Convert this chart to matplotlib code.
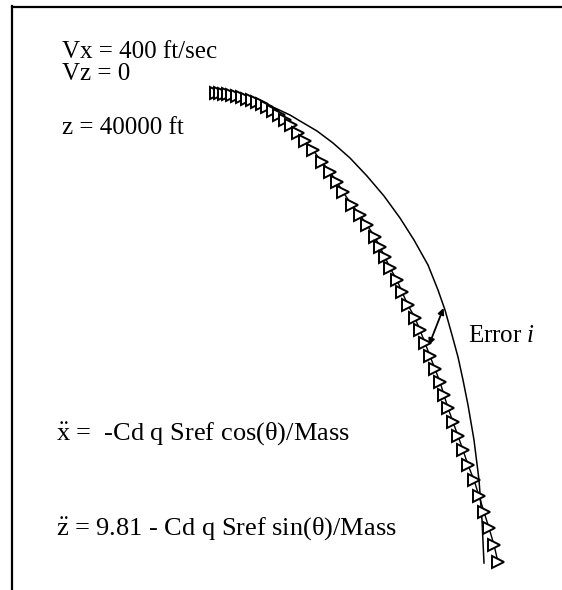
import matplotlib
matplotlib.use("Agg")
import matplotlib.pyplot as plt

plt.rcParams['font.family'] = ['Liberation Serif', 'DejaVu Serif']
plt.rcParams['mathtext.fontset'] = 'custom'
plt.rcParams['mathtext.rm'] = 'Liberation Serif'
plt.rcParams['mathtext.it'] = 'Liberation Serif:italic'

# Simulated trajectory (triangle markers): downrange / depth in picture units
sim_x = [216, 220, 224, 228, 232, 237, 242, 247, 252, 257, 262, 267, 273, 279,
         285, 291, 298, 305, 313, 322, 330, 337, 343, 352, 360, 367, 375, 380,
         385, 390, 397, 402, 408, 415, 420, 425, 430, 435, 440, 444, 448, 453,
         458, 463, 468, 474, 479, 484, 489, 494, 498]
sim_z = [93, 93, 94, 94.5, 95, 96, 97.5, 99, 100.5, 102, 104.5, 107, 111, 115.5,
         120, 125, 133, 141, 150, 162, 172, 182, 192, 205, 215, 225, 237, 247,
         257, 268, 280, 292, 305, 318, 330, 343, 356, 369, 382, 395, 408, 422,
         436, 450, 465, 480, 496, 512, 528, 545, 562]

# Reference (exact) trajectory: smooth curve
ref_x = [216, 226, 235, 244, 253, 264, 275, 290, 300, 317, 333, 350, 367, 384,
         400, 414, 428, 438, 445, 452, 458, 463, 468, 474, 479, 482, 484]
ref_z = [93, 94, 95, 97, 100, 104, 108, 115, 121, 131, 143, 158, 176, 196,
         218, 240, 265, 290, 310, 335, 357, 380, 405, 440, 480, 520, 563]

# Error vector endpoints (simulated point -> reference curve)
err_start = (429, 345)
err_end = (443.5, 308)

labels_top = ["Vx = 400 ft/sec", "Vz = 0", "z = 40000 ft"]
eq_x = r"$\ddot{\mathrm{x}}$ =  -Cd q Sref cos(θ)/Mass"
eq_z = r"$\ddot{\mathrm{z}}$ = 9.81 - Cd q Sref sin(θ)/Mass"
err_label = r"Error $i$"

W, H = 562, 590
fig = plt.figure(figsize=(W / 100, H / 100), dpi=100)
x0, y0 = 11.5, 6.5
ax = fig.add_axes([x0 / W, 0, 1 - x0 / W, 1 - y0 / H])
ax.set_xlim(x0, W)
ax.set_ylim(H, y0)
for s in ['right', 'bottom']:
    ax.spines[s].set_visible(False)
for s in ['left', 'top']:
    ax.spines[s].set_linewidth(1.6)
ax.set_xticks([])
ax.set_yticks([])

ax.plot(ref_x, ref_z, color='black', lw=1.1, zorder=2)
ax.plot(sim_x, sim_z, color='black', lw=1.0, marker='>', markersize=8.5,
        markerfacecolor='white', markeredgecolor='black', markeredgewidth=1.4,
        zorder=3)

ax.annotate('', xy=err_end, xytext=err_start,
            arrowprops=dict(arrowstyle='<|-|>', color='black', lw=1.3,
                            mutation_scale=9, shrinkA=0, shrinkB=0))

fs = 18
ax.text(62, 58, labels_top[0], fontsize=fs, va='baseline')
ax.text(62, 80, labels_top[1], fontsize=fs, va='baseline')
ax.text(62, 134, labels_top[2], fontsize=fs, va='baseline')
ax.text(56, 440, eq_x, fontsize=19, va='baseline')
ax.text(56, 535, eq_z, fontsize=19, va='baseline')
ax.text(468, 342, err_label, fontsize=fs, va='baseline')

fig.savefig('out.png', dpi=100)
